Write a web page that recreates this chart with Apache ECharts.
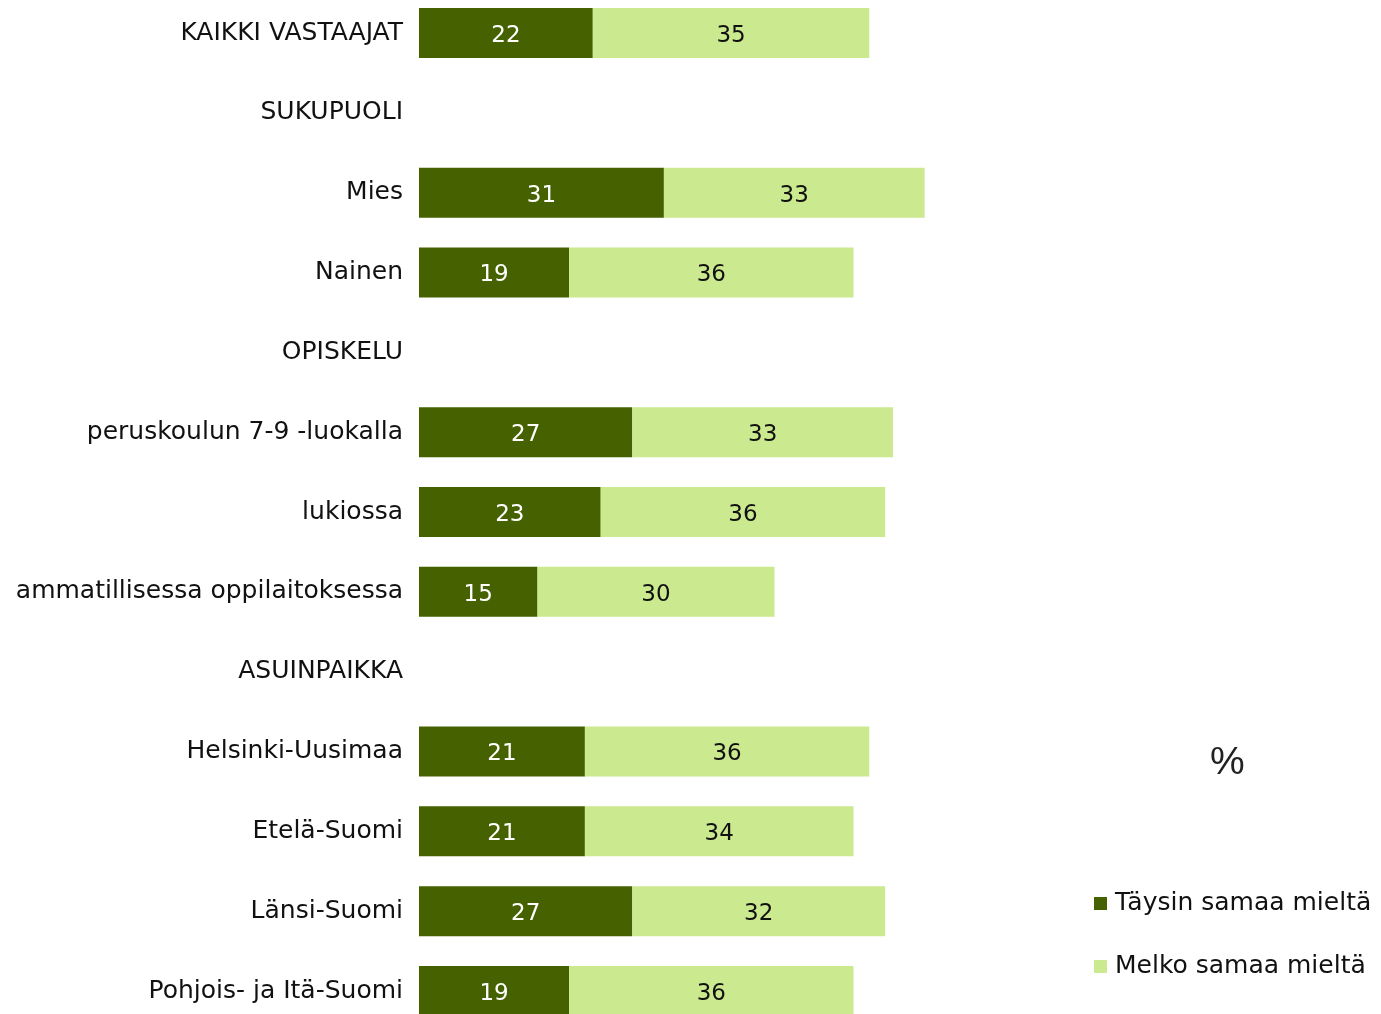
<!DOCTYPE html>
<html>
<head>
<meta charset="utf-8">
<script src="https://cdn.jsdelivr.net/npm/echarts@6/dist/echarts.min.js"></script>
<style>
  html, body { margin: 0; padding: 0; background: #fff; }
  #chart { width: 1381px; height: 1014px; }
</style>
</head>
<body>
<div id="chart"></div>
<script>
// luokat ylhäältä alas
var categories = [
    'KAIKKI VASTAAJAT', 'SUKUPUOLI', 'Mies', 'Nainen', 'OPISKELU',
    'peruskoulun 7-9 -luokalla', 'lukiossa', 'ammatillisessa oppilaitoksessa',
    'ASUINPAIKKA', 'Helsinki-Uusimaa', 'Etelä-Suomi', 'Länsi-Suomi', 'Pohjois- ja Itä-Suomi'
];
var taysin = [22, null, 31, 19, null, 27, 23, 15, null, 21, 21, 27, 19];
var melko = [35, null, 33, 36, null, 33, 36, 30, null, 36, 34, 32, 36];
var seriesNames = ['Täysin samaa mieltä', 'Melko samaa mieltä'];

var font = '"DejaVu Sans", sans-serif';

var dom = document.getElementById('chart');
var myChart = echarts.init(dom, null, {
    renderer: 'canvas',
    useDirtyRect: false
});

var option = {
    animation: false,
    textStyle: { fontFamily: font },
    graphic: [{
        type: 'text',
        left: 1210,
        top: 744,
        style: { text: '%', font: '39px "Liberation Sans", Arial, sans-serif', fill: '#222' }
    }],
    legend: {
        data: seriesNames,
        orient: 'vertical',
        left: 1089,
        top: 886,
        itemWidth: 13,
        itemHeight: 13,
        itemGap: 38,
        icon: 'rect',
        textStyle: { fontSize: 25, color: '#111', fontFamily: font, padding: [0, 0, 0, 3] }
    },
    grid: {
        left: 419,
        width: 790,
        top: 33,
        bottom: 23,
        containLabel: false
    },
    xAxis: {
        type: 'value',
        min: 0,
        max: 100,
        show: false
    },
    yAxis: {
        type: 'category',
        inverse: true,
        boundaryGap: false,
        data: categories,
        axisLine: { show: false },
        axisTick: { show: false },
        axisLabel: {
            margin: 16,
            fontSize: 25,
            color: '#111',
            fontFamily: font
        }
    },
    series: [
        {
            name: seriesNames[0],
            type: 'bar',
            stack: 'a',
            barWidth: 50,
            data: taysin,
            itemStyle: { color: '#466200' },
            label: {
                show: true,
                position: 'inside',
                color: '#fff',
                fontSize: 23,
                offset: [0, 3],
                fontFamily: font
            }
        },
        {
            name: seriesNames[1],
            type: 'bar',
            stack: 'a',
            barWidth: 50,
            data: melko,
            itemStyle: { color: '#cbe98e' },
            label: {
                show: true,
                position: 'inside',
                color: '#111',
                fontSize: 23,
                offset: [0, 3],
                fontFamily: font
            }
        }
    ]
};

if (option && typeof option === 'object') {
    myChart.setOption(option);
}

window.addEventListener('resize', myChart.resize);
</script>
</body>
</html>
